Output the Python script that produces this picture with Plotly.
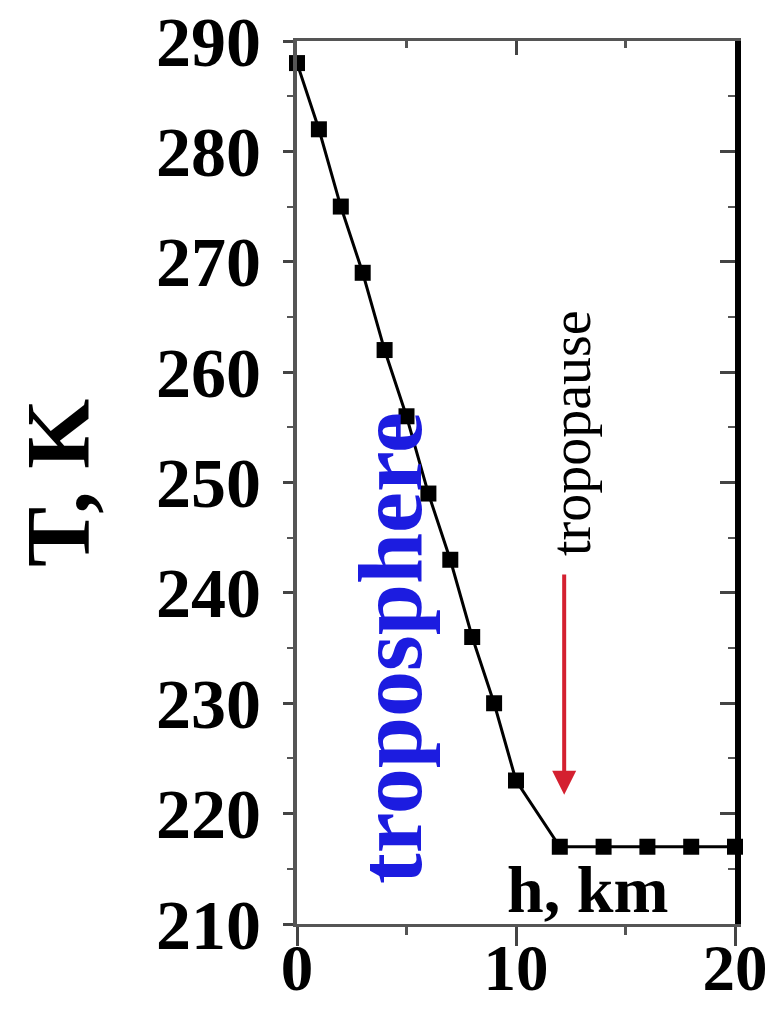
import plotly.graph_objects as go

h_km = [0, 1, 2, 3, 4, 5, 6, 7, 8, 9, 10, 12, 14, 16, 18, 20]
temp_K = [288, 282, 275, 269, 262, 256, 249, 243, 236, 230, 223, 217, 217, 217, 217, 217]

x_ticks = [0, 10, 20]
y_ticks = [210, 220, 230, 240, 250, 260, 270, 280, 290]

SERIF = "Liberation Serif"
L, R, T, B = 297, 735, 41, 924

fig = go.Figure()
fig.add_trace(go.Scatter(
    x=h_km, y=temp_K, mode="lines+markers",
    line=dict(color="black", width=3),
    marker=dict(symbol="square", size=16, color="black"),
    showlegend=False, cliponaxis=False,
))
# invisible traces to activate secondary axes
fig.add_trace(go.Scatter(x=[None], y=[None], xaxis="x2", yaxis="y2", showlegend=False))
fig.add_trace(go.Scatter(x=[None], y=[None], xaxis="x3", yaxis="y", showlegend=False))

fig.update_layout(
    width=776, height=1016,
    margin=dict(l=L, r=776 - R, t=T, b=1016 - B, autoexpand=False),
    plot_bgcolor="white", paper_bgcolor="white",
    xaxis=dict(
        range=[0, 20], tickvals=x_ticks, ticks="outside", ticklen=19, tickwidth=3,
        tickcolor="#444", linecolor="#555", linewidth=3, showgrid=False, zeroline=False,
        automargin=False, showticklabels=False,
        minor=dict(dtick=5, ticks="outside", ticklen=8, tickwidth=3, tickcolor="#555"),
    ),
    xaxis3=dict(
        range=[0, 20], overlaying="x", anchor="y", side="bottom", tickvals=x_ticks,
        ticks="", showline=False, showgrid=False, zeroline=False, automargin=False,
        tickfont=dict(family=SERIF, size=65, color="black", weight="bold"),
    ),
    xaxis2=dict(
        range=[0, 20], overlaying="x", side="top", tickvals=[0, 10, 20], ticks="inside",
        ticklen=14, tickwidth=3, tickcolor="#444", showticklabels=False, automargin=False,
        linecolor="#555", linewidth=3, showgrid=False, zeroline=False, showline=True,
        minor=dict(dtick=5, ticks="inside", ticklen=7, tickwidth=3, tickcolor="#555"),
    ),
    yaxis=dict(
        range=[210, 290], tickvals=y_ticks, ticks="outside", ticklen=10, tickwidth=3,
        tickcolor="#444", linecolor="#555", linewidth=4, showgrid=False, zeroline=False,
        automargin=False, ticklabelstandoff=8,
        minor=dict(dtick=5, ticks="outside", ticklen=6, tickwidth=2, tickcolor="#555"),
        tickfont=dict(family=SERIF, size=70, color="black", weight="bold"),
    ),
    yaxis2=dict(
        range=[210, 290], overlaying="y", side="right", tickvals=y_ticks, ticks="inside",
        ticklen=15, tickwidth=3, tickcolor="#444", showticklabels=False, automargin=False,
        linecolor="black", linewidth=6, showgrid=False, zeroline=False, showline=True,
        minor=dict(dtick=5, ticks="inside", ticklen=7, tickwidth=2, tickcolor="#555"),
    ),
)


def px_to_dom(px, py):
    return (px - L) / (R - L), (B - py) / (B - T)


def label(px, py, text, size, color, bold=True, angle=0):
    x, y = px_to_dom(px, py)
    fig.add_annotation(
        x=x, y=y, xref="x domain", yref="y domain", text=text, textangle=angle,
        xanchor="center", yanchor="middle", showarrow=False,
        font=dict(family=SERIF, size=size, color=color, weight="bold" if bold else "normal"),
    )


label(58, 483, "T, K", 90, "black", angle=-90)
label(390, 648, "troposphere", 92, "#1c1ce0", angle=-90)
label(571, 433, "tropopause", 56, "black", bold=False, angle=-90)
label(587, 889, "h, km", 66, "black")

# red arrow pointing to tropopause
fig.add_annotation(
    x=12.2, y=221.7, ax=12.2, ay=241.8, xref="x", yref="y", axref="x", ayref="y",
    text="", showarrow=True, arrowhead=2, arrowsize=1.2, arrowwidth=4, arrowcolor="#d42030",
)

fig.write_html("out.html")
